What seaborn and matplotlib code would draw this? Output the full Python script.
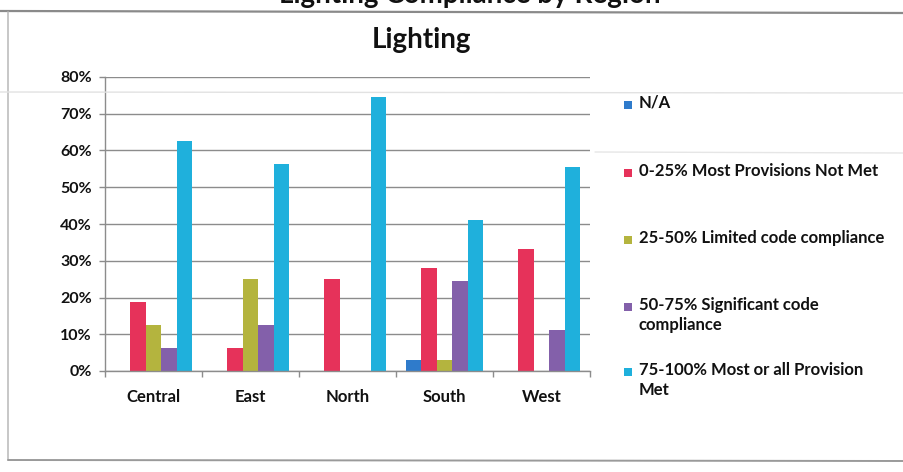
import matplotlib
matplotlib.use("Agg")
import matplotlib.pyplot as plt
import pandas as pd
import seaborn as sns
from matplotlib.patches import Rectangle
from matplotlib.lines import Line2D
from matplotlib.ticker import FuncFormatter, FixedLocator

# Compliance shares (percent of sites) by region and compliance band
regions = ["Central", "East", "North", "South", "West"]
bands = [
    "N/A",
    "0-25% Most Provisions Not Met",
    "25-50% Limited code compliance",
    "50-75% Significant code compliance",
    "75-100% Most or all Provision Met",
]
band_labels = [
    "N/A",
    "0-25% Most Provisions Not Met",
    "25-50% Limited code compliance",
    "50-75% Significant code\ncompliance",
    "75-100% Most or all Provision\nMet",
]
na_pct = [0.0, 0.0, 0.0, 3.1, 0.0]
not_met_pct = [18.8, 6.3, 25.0, 28.0, 33.3]
limited_pct = [12.5, 25.0, 0.0, 3.1, 0.0]
significant_pct = [6.3, 12.5, 0.0, 24.5, 11.1]
most_met_pct = [62.5, 56.3, 74.5, 41.0, 55.6]
y_ticks = [0, 10, 20, 30, 40, 50, 60, 70, 80]

band_colors = ["#2f7bcb", "#e6325a", "#b4b43e", "#8360aa", "#1fb0dc"]

series = [na_pct, not_met_pct, limited_pct, significant_pct, most_met_pct]
df = pd.DataFrame(
    [
        {"Region": r, "Band": b, "Share": v}
        for b, vals in zip(bands, series)
        for r, v in zip(regions, vals)
    ]
)

sns.set_style("white")
plt.rcParams["font.family"] = ["Lato", "DejaVu Sans"]
plt.rcParams["font.weight"] = "bold"

W, H = 904, 472
fig = plt.figure(figsize=(W / 100, H / 100), dpi=100)
fig.patch.set_facecolor("white")


def fx(px):
    return px / W


def fy(py):
    return 1 - py / H


ax = fig.add_axes([fx(105), fy(371), fx(485), (371 - 77) / H])

sns.barplot(
    data=df,
    x="Region",
    y="Share",
    hue="Band",
    order=regions,
    hue_order=bands,
    palette=band_colors,
    width=0.8,
    saturation=1,
    legend=False,
    ax=ax,
)
for p in ax.patches:
    p.set_edgecolor("none")

ax.set_xlim(-0.5, len(regions) - 0.5)
ax.set_ylim(0, 80)
ax.yaxis.set_major_locator(FixedLocator(y_ticks))
ax.yaxis.set_major_formatter(FuncFormatter(lambda v, _: f"{v:.0f}%"))
ax.set_xlabel("")
ax.set_ylabel("")

ax.grid(axis="y", color="#8c8c8c", linewidth=1.0)
ax.grid(axis="x", visible=False)
ax.set_axisbelow(True)

for side in ["top", "right"]:
    ax.spines[side].set_visible(False)
for side in ["left", "bottom"]:
    ax.spines[side].set_color("#8c8c8c")
    ax.spines[side].set_linewidth(1.0)

ax.tick_params(axis="y", which="major", direction="out", length=4, width=1,
               color="#8c8c8c", pad=5.5, labelsize=11.5, left=True)
ax.tick_params(axis="x", which="major", length=0, pad=13, labelsize=12)
ax.set_xticks(range(len(regions)))
ax.set_xticklabels(regions)
ax.set_xticks([i - 0.5 for i in range(len(regions) + 1)], minor=True)
ax.tick_params(axis="x", which="minor", direction="out", length=4, width=1,
               color="#8c8c8c", bottom=True)
for lab in ax.get_xticklabels() + ax.get_yticklabels():
    lab.set_fontweight("bold")
    lab.set_color("#111111")

# Legend entries, stacked down the right-hand side
legend_rows = [105, 173, 240, 307, 372]
for label, color, row in zip(band_labels, band_colors, legend_rows):
    fig.add_artist(Rectangle((fx(624), fy(row + 4)), fx(8), 8 / H,
                             facecolor=color, edgecolor="none",
                             transform=fig.transFigure))
    fig.text(fx(639), fy(row - 10), label, ha="left", va="top",
             fontsize=12, fontweight="bold", color="#111111",
             linespacing=1.28)

# Chart titles (the upper heading runs off the top edge of the page)
fig.text(fx(422), fy(40), "Lighting", ha="center", va="center",
         fontsize=20, fontweight="bold", color="#111111")
fig.text(fx(470), fy(3), "Lighting Compliance by Region", ha="center",
         va="baseline", fontsize=20, fontweight="bold", color="#111111")

# Chart frame and faint rule lines
fig.add_artist(Line2D([fx(0), fx(904)], [fy(11), fy(13)], color="#8a8a8a",
                      linewidth=1.6, transform=fig.transFigure))
fig.add_artist(Line2D([fx(8), fx(8)], [fy(12), fy(460)], color="#bdbdbd",
                      linewidth=1.2, transform=fig.transFigure))
fig.add_artist(Line2D([fx(8), fx(904)], [fy(460), fy(461)], color="#9a9a9a",
                      linewidth=1.4, transform=fig.transFigure))
fig.add_artist(Line2D([fx(0), fx(904)], [fy(92), fy(93)], color="#e2e2e2",
                      linewidth=1.0, transform=fig.transFigure))
fig.add_artist(Line2D([fx(595), fx(904)], [fy(152), fy(153)], color="#e6e6e6",
                      linewidth=1.0, transform=fig.transFigure))

fig.savefig("out.png", dpi=100)
